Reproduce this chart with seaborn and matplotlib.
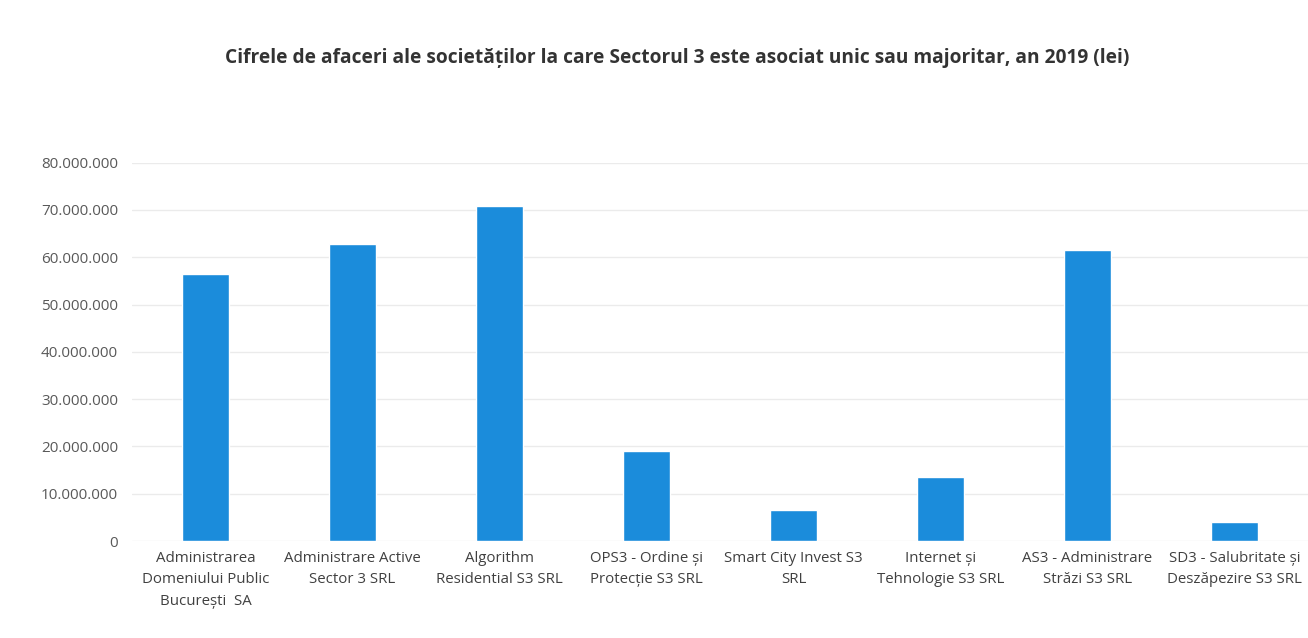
import matplotlib
matplotlib.use("Agg")
import matplotlib.pyplot as plt
import seaborn as sns
import pandas as pd
from matplotlib.ticker import FuncFormatter

companies = [
    "Administrarea\nDomeniului Public\nBucurești  SA",
    "Administrare Active\nSector 3 SRL",
    "Algorithm\nResidential S3 SRL",
    "OPS3 - Ordine și\nProtecție S3 SRL",
    "Smart City Invest S3\nSRL",
    "Internet și\nTehnologie S3 SRL",
    "AS3 - Administrare\nStrăzi S3 SRL",
    "SD3 - Salubritate și\nDeszăpezire S3 SRL",
]
turnover = [56_400_000, 62_800_000, 70_900_000, 19_100_000,
            6_600_000, 13_600_000, 61_500_000, 4_000_000]
yticks = list(range(0, 80_000_001, 10_000_000))
title = "Cifrele de afaceri ale societăților la care Sectorul 3 este asociat unic sau majoritar, an 2019 (lei)"

sns.set_theme(style="white")
plt.rcParams['font.family'] = ['Open Sans', 'DejaVu Sans']

df = pd.DataFrame({"company": companies, "value": turnover})

fig = plt.figure(figsize=(13.08, 6.38), dpi=100)
ax = fig.add_axes([0.101, 0.152, 0.899, 0.593])
sns.barplot(data=df, x="company", y="value", color="#1b8cdb", width=0.32,
            saturation=1, ax=ax, zorder=3)

ax.set_ylim(0, 80_000_000)
ax.set_xlim(-0.5, 7.5)
ax.set_yticks(yticks)
ax.yaxis.set_major_formatter(FuncFormatter(lambda v, p: f"{int(v):,}".replace(",", ".")))
ax.grid(axis="y", color="#ebebeb", linewidth=1, zorder=0)
for s in ax.spines.values():
    s.set_visible(False)
ax.tick_params(axis="y", length=0, pad=10, labelsize=11, labelcolor="#595959")
ax.tick_params(axis="x", length=0, pad=7, labelsize=10.8, labelcolor="#404040")
for t in ax.get_xticklabels():
    t.set_linespacing(1.6)
ax.set_xlabel("")
ax.set_ylabel("")

fig.text(0.518, 0.909, title, ha="center", va="center", fontsize=13.8,
         fontweight="bold", color="#333333")

fig.savefig("out.png", dpi=100, facecolor="white")
